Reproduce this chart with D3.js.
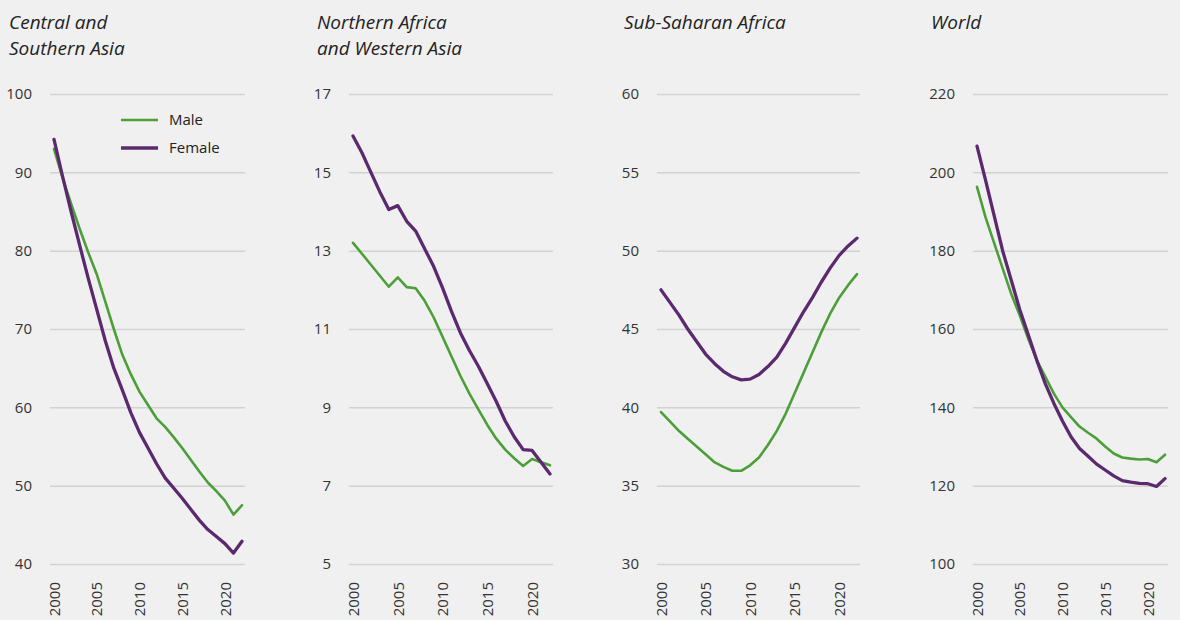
<!DOCTYPE html>
<html>
<head>
<meta charset="utf-8">
<script src="https://cdn.jsdelivr.net/npm/d3@7"></script>
<style>
  body { margin: 0; background: #f0f0f0; }
  svg { display: block; font-family: "Open Sans", "Noto Sans", sans-serif; }
</style>
</head>
<body>
<svg id="chart"></svg>
<script>
// ---- data ----
const years = [2000, 2001, 2002, 2003, 2004, 2005, 2006, 2007, 2008, 2009, 2010, 2011,
  2012, 2013, 2014, 2015, 2016, 2017, 2018, 2019, 2020, 2021, 2022];
const xTickYears = [2000, 2005, 2010, 2015, 2020];

const regionTitles = [
  ["Central and", "Southern Asia"],
  ["Northern Africa", "and Western Asia"],
  ["Sub-Saharan Africa"],
  ["World"]
];

const yTicksCSA = [40, 50, 60, 70, 80, 90, 100];
const yTicksNAWA = [5, 7, 9, 11, 13, 15, 17];
const yTicksSSA = [30, 35, 40, 45, 50, 55, 60];
const yTicksWorld = [100, 120, 140, 160, 180, 200, 220];

const maleCSA = [93.0, 89.3, 86.0, 82.8, 79.8, 77.0, 73.5, 70.0, 66.7, 64.2, 62.0, 60.3,
  58.6, 57.5, 56.2, 54.8, 53.3, 51.8, 50.4, 49.3, 48.1, 46.3, 47.5];
const femaleCSA = [94.2, 89.5, 85.0, 80.7, 76.5, 72.5, 68.5, 65.0, 62.2, 59.3, 56.8, 54.8,
  52.8, 51.0, 49.7, 48.4, 47.0, 45.6, 44.4, 43.5, 42.6, 41.4, 42.9];

const maleNAWA = [13.2, 12.92, 12.64, 12.36, 12.08, 12.32, 12.07, 12.04, 11.72, 11.3, 10.8, 10.3,
  9.8, 9.35, 8.95, 8.55, 8.2, 7.92, 7.7, 7.5, 7.68, 7.6, 7.52];
const femaleNAWA = [15.93, 15.5, 15.0, 14.5, 14.05, 14.15, 13.75, 13.5, 13.05, 12.6, 12.05, 11.45,
  10.9, 10.45, 10.05, 9.6, 9.15, 8.65, 8.25, 7.92, 7.9, 7.6, 7.3];

const maleSSA = [39.7, 39.1, 38.5, 38.0, 37.5, 37.0, 36.5, 36.2, 35.95, 35.95, 36.3, 36.8,
  37.6, 38.5, 39.6, 40.9, 42.2, 43.5, 44.8, 46.0, 47.0, 47.8, 48.5];
const femaleSSA = [47.5, 46.7, 45.9, 45.0, 44.2, 43.4, 42.8, 42.3, 41.95, 41.75, 41.8, 42.1,
  42.6, 43.2, 44.1, 45.1, 46.1, 47.0, 48.0, 48.9, 49.7, 50.3, 50.8];

const maleWorld = [196.3, 188.5, 182.0, 175.5, 169.0, 163.5, 157.5, 152.0, 147.8, 143.5, 140.0, 137.5,
  135.1, 133.5, 132.0, 130.0, 128.2, 127.2, 126.9, 126.7, 126.8, 126.0, 127.9];
const femaleWorld = [206.7, 198.0, 189.0, 180.0, 172.5, 165.0, 158.5, 152.0, 146.0, 141.0, 136.5, 132.5,
  129.5, 127.5, 125.5, 124.0, 122.5, 121.3, 120.9, 120.6, 120.5, 119.8, 121.8];

const seriesNames = ["Male", "Female"];

const panels = [
  { title: regionTitles[0], ticks: yTicksCSA, male: maleCSA, female: femaleCSA },
  { title: regionTitles[1], ticks: yTicksNAWA, male: maleNAWA, female: femaleNAWA },
  { title: regionTitles[2], ticks: yTicksSSA, male: maleSSA, female: femaleSSA },
  { title: regionTitles[3], ticks: yTicksWorld, male: maleWorld, female: femaleWorld }
];

// ---- layout ----
const width = 1180, height = 620;
const titleX = [9, 317, 624, 931];
const gridStart = [50, 349, 657, 973];
const gridEnd = [245, 553, 860, 1168];
const plotTop = 94, plotBottom = 564;

const colors = { Male: "#4c9f38", Female: "#5b2a6e" };
const widths = { Male: 2.6, Female: 3.3 };

const svg = d3.select("#chart")
  .attr("width", width)
  .attr("height", height);

svg.append("rect")
  .attr("width", width)
  .attr("height", height)
  .attr("fill", "#f0f0f0");

panels.forEach((p, i) => {
  const g = svg.append("g");

  const x = d3.scaleLinear()
    .domain([years[0], years[years.length - 1]])
    .range([gridStart[i] + 4, gridEnd[i] - 3]);
  const y = d3.scaleLinear()
    .domain(d3.extent(p.ticks))
    .range([plotBottom, plotTop]);

  // title
  const title = g.append("text")
    .attr("x", titleX[i])
    .attr("y", 29)
    .attr("font-size", 19)
    .attr("font-style", "italic")
    .attr("fill", "#222");
  title.selectAll("tspan")
    .data(p.title)
    .join("tspan")
      .attr("x", titleX[i])
      .attr("dy", (d, j) => j === 0 ? 0 : 26)
      .text(d => d);

  // horizontal grid + y labels
  const yAxis = d3.axisLeft(y)
    .tickValues(p.ticks)
    .tickSize(-(gridEnd[i] - gridStart[i]))
    .tickPadding(18)
    .tickFormat(d3.format("d"));
  const yG = g.append("g")
    .attr("transform", `translate(${gridStart[i]},0)`)
    .call(yAxis);
  yG.select(".domain").remove();
  yG.selectAll(".tick line")
    .attr("stroke", "#d2d2d2")
    .attr("stroke-width", 1.5);
  yG.selectAll(".tick text")
    .attr("font-size", 15)
    .attr("fill", "#333")
    .attr("font-family", "Open Sans, Noto Sans, sans-serif");

  // x labels (rotated)
  const xAxis = d3.axisBottom(x)
    .tickValues(xTickYears)
    .tickSize(0)
    .tickFormat(d3.format("d"));
  const xG = g.append("g")
    .attr("transform", `translate(0,${plotBottom})`)
    .call(xAxis);
  xG.select(".domain").remove();
  xG.selectAll(".tick text")
    .attr("font-size", 15)
    .attr("fill", "#333")
    .attr("font-family", "Open Sans, Noto Sans, sans-serif")
    .attr("text-anchor", "end")
    .attr("transform", "rotate(-90)")
    .attr("x", -18)
    .attr("y", 0)
    .attr("dy", "0.35em");

  // lines
  const line = d3.line()
    .x((d, j) => x(years[j]))
    .y(d => y(d));

  seriesNames.forEach(name => {
    const vals = name === "Male" ? p.male : p.female;
    g.append("path")
      .datum(vals)
      .attr("fill", "none")
      .attr("stroke", colors[name])
      .attr("stroke-width", widths[name])
      .attr("stroke-linejoin", "round")
      .attr("stroke-linecap", "round")
      .attr("d", line);
  });
});

// legend
const legendG = svg.append("g")
  .attr("transform", "translate(121,120)");
const legendItems = legendG.selectAll("g")
  .data(seriesNames)
  .join("g")
    .attr("transform", (d, i) => `translate(0,${i * 28})`);
legendItems.append("line")
  .attr("x1", 0)
  .attr("x2", 37)
  .attr("stroke", d => colors[d])
  .attr("stroke-width", d => widths[d]);
legendItems.append("text")
  .attr("x", 48)
  .attr("dy", "0.35em")
  .attr("font-size", 15)
  .attr("fill", "#222")
  .text(d => d);
</script>
</body>
</html>
